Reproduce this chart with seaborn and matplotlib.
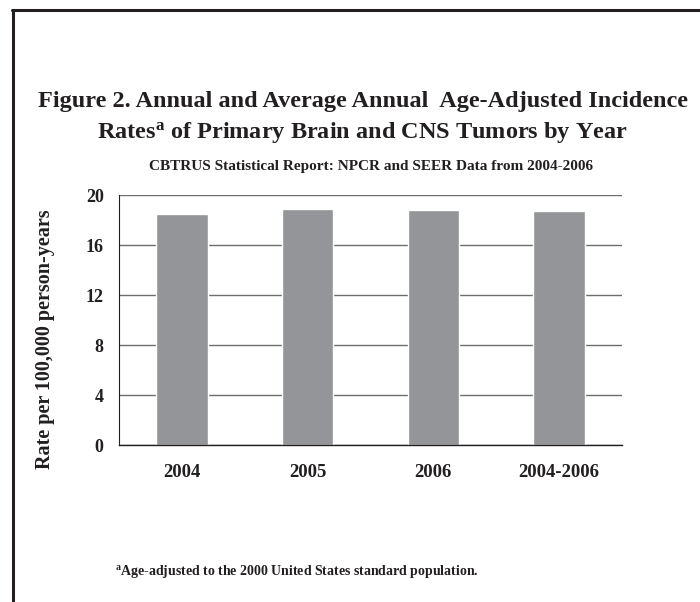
import matplotlib
matplotlib.use("Agg")
import matplotlib.pyplot as plt
import seaborn as sns
import pandas as pd
from matplotlib.lines import Line2D

categories = ["2004", "2005", "2006", "2004-2006"]
rates = [18.45, 18.85, 18.78, 18.7]
yticks = [0, 4, 8, 12, 16, 20]

sns.set_theme(style="white")
plt.rcParams['font.family'] = ['Liberation Serif', 'DejaVu Serif']
plt.rcParams['font.weight'] = 'bold'
plt.rcParams['mathtext.fontset'] = 'custom'
plt.rcParams['mathtext.rm'] = 'Liberation Serif:bold'
plt.rcParams['mathtext.bf'] = 'Liberation Serif:bold'
plt.rcParams['mathtext.it'] = 'Liberation Serif:bold'

df = pd.DataFrame({"cat": categories, "rate": rates})

fig = plt.figure(figsize=(7.0, 6.02), dpi=100)
ax = fig.add_axes([119/700, (602-445)/602, (622-119)/700, (445-195)/602])

sns.barplot(data=df, x="cat", y="rate", color="#939598", saturation=1,
            width=0.41, ax=ax)

ax.set_xlim(-0.5, 3.5)
ax.set_ylim(0, 20)
ax.set_yticks(yticks)
ax.set_yticklabels([str(t) for t in yticks], fontsize=13, fontweight='bold')
ax.set_xticks(range(len(categories)))
ax.set_xticklabels(categories, fontsize=13.5, fontweight='bold')
ax.set_xticks([-0.5, 0.5, 1.5, 2.5, 3.5], minor=True)
ax.tick_params(axis='x', which='major', length=0, pad=14, colors='#231f20')
ax.tick_params(axis='x', which='minor', length=6, width=0.8, color='black', direction='out')
ax.tick_params(axis='y', length=6, width=0.8, direction='out', pad=5, colors='#231f20')
ax.set_xlabel("")
ax.set_ylabel("Rate per 100,000 person-years", fontsize=14.5, fontweight='bold',
              color='#231f20')
ax.yaxis.set_label_coords((55 - 119) / 503, (445 - 339) / 250)

ax.set_axisbelow(True)
ax.yaxis.grid(True, color='#6d6d6d', linewidth=1.0)
ax.xaxis.grid(False)
for s in ['top', 'right']:
    ax.spines[s].set_visible(False)
ax.spines['left'].set_color('#231f20')
ax.spines['left'].set_linewidth(0.8)
ax.spines['bottom'].set_color('#231f20')
ax.spines['bottom'].set_linewidth(1.0)

fig.text(363/700, 1 - 107/602, "Figure 2. Annual and Average Annual  Age-Adjusted Incidence",
         ha='center', va='baseline', fontsize=17.5, fontweight='bold', color='#231f20')
fig.text(362/700, 1 - 138/602, r"Rates$^{\mathrm{a}}$ of Primary Brain and CNS Tumors by Year",
         ha='center', va='baseline', fontsize=17.5, fontweight='bold', color='#231f20')
fig.text(371/700, 1 - 170/602, "CBTRUS Statistical Report: NPCR and SEER Data from 2004-2006",
         ha='center', va='baseline', fontsize=11, fontweight='bold', color='#231f20')
fig.text(115/700, 1 - 575/602, r"$^{\mathrm{a}}$Age-adjusted to the 2000 United States standard population.",
         ha='left', va='baseline', fontsize=10, fontweight='bold', color='#231f20')

# page border (left and top)
fig.add_artist(Line2D([13/700, 13/700], [0, 1 - 10/602], transform=fig.transFigure,
                      color='#231f20', linewidth=2.2))
fig.add_artist(Line2D([12/700, 1], [1 - 10/602, 1 - 10/602], transform=fig.transFigure,
                      color='#231f20', linewidth=2.2))

fig.savefig("out.png", dpi=100)
